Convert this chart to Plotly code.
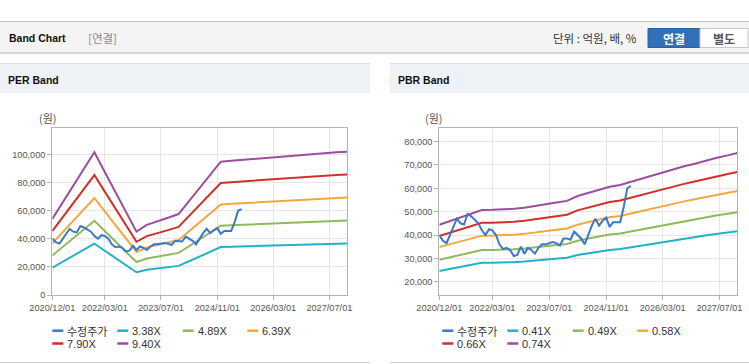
import plotly.graph_objects as go
import pandas as pd

W, H = 749, 364

# ---------------- data ----------------
price_dates = pd.date_range("2020-12-01", periods=55, freq="MS")
price = [40000, 37500, 36500, 39500, 43500, 47000, 45000, 44500, 49000, 48000,
         46500, 45000, 42000, 40000, 42500, 42000, 40000, 36000, 34000, 34500,
         33500, 31000, 31500, 35000, 32000, 34500, 33500, 32000, 34500, 36000,
         36000, 36500, 37000, 36500, 35500, 38500, 38500, 38000, 41500, 40000,
         38500, 36000, 40000, 44000, 47000, 44000, 46000, 47500, 43500, 45500,
         45500, 45500, 52000, 60000, 61000]

band_dates = pd.date_range("2020-12-01", periods=29, freq="3MS")
eps = [5750, 7000, 8250, 9500, 10790, 9300, 7800, 6300, 4790, 5300,
       5550, 5840, 6120, 7090, 8090, 9090, 10080, 10150, 10220, 10290,
       10360, 10430, 10500, 10570, 10640, 10700, 10770, 10800, 10840]
bps = [60000, 62000, 64300, 66500, 68500, 68600, 68700, 69200, 69800, 70600,
       71800, 72800, 73800, 76600, 78500, 80300, 82000, 83000, 84800, 86800,
       88600, 90500, 92200, 93800, 95300, 97000, 98600, 100000, 101500]

per_multiples = [3.38, 4.89, 6.39, 7.90, 9.40]
pbr_multiples = [0.41, 0.49, 0.58, 0.66, 0.74]
price_name = "수정주가"

x_tick_dates = ["2020-12-01", "2022-03-01", "2023-07-01", "2024-11-01", "2026-03-01", "2027-07-01"]
x_tick_text = [d.replace("-", "/") for d in x_tick_dates]
per_y_ticks = [0, 20000, 40000, 60000, 80000, 100000]
pbr_y_ticks = [20000, 30000, 40000, 50000, 60000, 70000, 80000]

# ---------------- styles ----------------
price_color = "#3b78c6"
band_colors = ["#22b2c6", "#8dbb5b", "#f4a83c", "#d12f2b", "#9a4f9d"]
TICK_FONT = dict(family="Liberation Sans, Arial, sans-serif", size=9.2, color="#555555")
KR = "Noto Sans CJK KR, Noto Sans, sans-serif"
LAT = "Liberation Sans, Arial, sans-serif"


def xp(px):
    return px / W


def yp(py):
    return 1 - py / H


fig = go.Figure()

panels = [
    dict(xa="x", ya="y", vals=eps, mults=per_multiples),
    dict(xa="x2", ya="y2", vals=bps, mults=pbr_multiples),
]
for p in panels:
    for m, c in zip(p["mults"], band_colors):
        fig.add_trace(go.Scatter(
            x=band_dates, y=[m * v for v in p["vals"]], mode="lines",
            line=dict(color=c, width=2), name=f"{m:.2f}X",
            xaxis=p["xa"], yaxis=p["ya"], showlegend=False))
    fig.add_trace(go.Scatter(
        x=price_dates, y=price, mode="lines", line=dict(color=price_color, width=2),
        name=price_name, xaxis=p["xa"], yaxis=p["ya"], showlegend=False))

# ---------------- axes ----------------
plot_top, plot_bot = 128, 295
common_x = dict(type="date", range=["2020-12-01", "2027-12-01"], tickvals=x_tick_dates,
                ticktext=x_tick_text, showgrid=True, gridcolor="#e6e6e6", gridwidth=1,
                showline=True, linecolor="#b4b4b4", linewidth=1, mirror=True,
                ticks="outside", ticklen=4, tickcolor="#b4b4b4", tickfont=TICK_FONT,
                zeroline=False, fixedrange=True, automargin=False)
common_y = dict(showgrid=True, gridcolor="#e6e6e6", gridwidth=1, showline=True,
                linecolor="#b4b4b4", linewidth=1, mirror=True, ticks="outside",
                ticklen=4, tickcolor="#b4b4b4", tickfont=TICK_FONT, tickformat=",d",
                zeroline=False, fixedrange=True, automargin=False)

fig.update_layout(
    xaxis=dict(common_x, domain=[xp(52.3), xp(347)], anchor="y"),
    yaxis=dict(common_y, domain=[yp(plot_bot), yp(plot_top)], anchor="x",
               range=[0, 118700], tickvals=per_y_ticks),
    xaxis2=dict(common_x, domain=[xp(439.3), xp(737.3)], anchor="y2"),
    yaxis2=dict(common_y, domain=[yp(plot_bot), yp(128.3)], anchor="x2",
                range=[14300, 85700], tickvals=pbr_y_ticks),
)

# ---------------- decorations ----------------
shapes = []
annotations = []


def rect(x0, y0, x1, y1, fill, line=None, lw=0):
    shapes.append(dict(type="rect", xref="paper", yref="paper", layer="below",
                       x0=xp(x0), x1=xp(x1), y0=yp(y1), y1=yp(y0), fillcolor=fill,
                       line=dict(color=line or fill, width=lw)))


def hline(x0, x1, y, color, w=1):
    shapes.append(dict(type="line", xref="paper", yref="paper", layer="below",
                       x0=xp(x0), x1=xp(x1), y0=yp(y), y1=yp(y),
                       line=dict(color=color, width=w)))


def text(x, y, s, size, color, family, anchor="left", bold=False):
    annotations.append(dict(xref="paper", yref="paper", x=xp(x), y=yp(y),
                            text=(f"<b>{s}</b>" if bold else s),
                            showarrow=False, xanchor=anchor, yanchor="middle",
                            font=dict(size=size, color=color, family=family)))


# top header bar
rect(0, 22, W, 52, "#f4f4f4")
hline(0, W, 21.5, "#c2c2c2")
hline(0, W, 52.5, "#cdcdcd")
hline(0, W, 53.5, "#e0e0e0")
hline(0, W, 54.5, "#efefef")
text(7, 38.5, "Band Chart", 10.5, "#111111", LAT, bold=True)
text(86, 38.5, "[연결]", 11.5, "#888888", KR)
text(551, 38.5, "단위 : 억원, 배, %", 11.5, "#333333", KR)
rect(648, 28.5, 700, 47.5, "#3270b8", "#2b62a3", 1)
rect(700, 28.5, 748, 47.5, "#ffffff", "#c8c8c8", 1)
text(674, 38.5, "연결", 12, "#ffffff", KR, anchor="center", bold=True)
text(724, 38.5, "별도", 12, "#555555", KR, anchor="center", bold=True)

# panel headers and borders
for x0, x1, title in [(0, 370, "PER Band"), (390, W, "PBR Band")]:
    rect(x0, 64, x1, 93, "#eef2f7")
    hline(x0, x1, 63.5, "#dde1e6")
    hline(x0, x1, 362.5, "#d2d2d2")
    text(x0 + 6, 79.5, title, 10.5, "#111111", LAT, bold=True)

# unit labels
text(48, 118, "(원)", 11, "#555555", KR, anchor="center")
text(434, 118, "(원)", 11, "#555555", KR, anchor="center")

# legends
legend_items_per = [(price_name, price_color)] + [(f"{m:.2f}X", c) for m, c in zip(per_multiples, band_colors)]
legend_items_pbr = [(price_name, price_color)] + [(f"{m:.2f}X", c) for m, c in zip(pbr_multiples, band_colors)]
col_offsets = [0, 65, 130.4, 195]
row_y = [330.7, 343.5]
for base, items in [(52.3, legend_items_per), (442.3, legend_items_pbr)]:
    for i, (name, color) in enumerate(items):
        r, c = divmod(i, 4)
        sx = base + col_offsets[c]
        sy = row_y[r]
        shapes.append(dict(type="line", xref="paper", yref="paper", x0=xp(sx), x1=xp(sx + 11),
                           y0=yp(sy), y1=yp(sy), line=dict(color=color, width=2.5)))
        fam = KR if name == price_name else LAT
        text(sx + 13, sy, name, 11, "#333333", fam)

fig.update_layout(
    width=W, height=H, autosize=False,
    margin=dict(l=0, r=0, t=0, b=0, pad=0),
    paper_bgcolor="#ffffff", plot_bgcolor="#ffffff",
    showlegend=False, shapes=shapes, annotations=annotations,
    hovermode=False,
)

fig.write_html("out.html", config=dict(displayModeBar=False),
               post_script="document.body.style.margin='0px';document.body.style.overflow='hidden';")
